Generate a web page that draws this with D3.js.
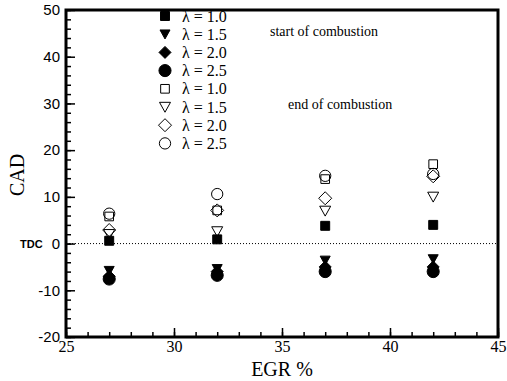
<!DOCTYPE html>
<html>
<head>
<meta charset="utf-8">
<script src="https://cdn.jsdelivr.net/npm/d3@7"></script>
</head>
<body style="margin:0">
<svg id="chart" width="507" height="381"></svg>
<script>
// EGR values (x) shared by every series
const egr = [27, 32, 37, 42];

// start of combustion (filled markers)
const startL10 = [0.6, 0.9, 3.8, 4.0];
const startL15 = [-5.8, -5.4, -3.6, -3.3];
const startL20 = [-7.0, -6.0, -5.0, -5.0];
const startL25 = [-7.6, -6.8, -6.0, -6.0];

// end of combustion (open markers)
const endL10 = [5.8, 7.1, 13.8, 17.0];
const endL15 = [2.0, 2.6, 7.0, 10.0];
const endL20 = [2.9, 7.1, 9.7, 14.4];
const endL25 = [6.4, 10.6, 14.5, 14.9];

const xTicks = [25, 30, 35, 40, 45];
const yTicks = [-20, -10, 0, 10, 20, 30, 40, 50];

const legendNames = ['λ = 1.0', 'λ = 1.5', 'λ = 2.0', 'λ = 2.5', 'λ = 1.0', 'λ = 1.5', 'λ = 2.0', 'λ = 2.5'];
const allValues = [startL10, startL15, startL20, startL25, endL10, endL15, endL20, endL25];
const shapes = ['square', 'tri', 'diamond', 'circle', 'square', 'tri', 'diamond', 'circle'];

const svg = d3.select('#chart');
const m = { left: 66, right: 498, top: 10, bottom: 337 };

const x = d3.scaleLinear().domain([25, 45]).range([m.left, m.right]);
const y = d3.scaleLinear().domain([-20, 50]).range([m.bottom, m.top]);

// marker path generator
function markerPath(shape, filled) {
  if (shape === 'square') return d3.symbol(d3.symbolSquare, filled ? 80 : 75)();
  if (shape === 'circle') return d3.symbol(d3.symbolCircle, filled ? 115 : 100)();
  if (shape === 'diamond') {
    const s = filled ? 6 : 6.5;
    return `M0,${-s}L${s},0L0,${s}L${-s},0Z`;
  }
  const s = filled ? 5 : 5.5; // downward triangle
  return `M${-s},${-s * 0.85}L${s},${-s * 0.85}L0,${s * 0.95}Z`;
}

// dotted TDC line
svg.append('line')
  .attr('x1', m.left).attr('x2', m.right)
  .attr('y1', y(0)).attr('y2', y(0))
  .attr('stroke', '#000').attr('stroke-width', 1)
  .attr('stroke-dasharray', '1,2');

// data markers
allValues.forEach((vals, k) => {
  const filled = k < 4;
  svg.append('g').selectAll('path')
    .data(vals)
    .enter().append('path')
    .attr('transform', (d, i) => `translate(${x(egr[i])},${y(d)})`)
    .attr('d', markerPath(shapes[k], filled))
    .attr('fill', filled ? '#000' : 'none')
    .attr('stroke', '#000')
    .attr('stroke-width', 1);
});

// legend
const legend = svg.append('g');
legendNames.forEach((name, k) => {
  const filled = k < 4;
  const ly = 16 + k * 18.2;
  legend.append('path')
    .attr('transform', `translate(165,${ly})`)
    .attr('d', markerPath(shapes[k], filled))
    .attr('fill', filled ? '#000' : 'none')
    .attr('stroke', '#000').attr('stroke-width', 1);
  legend.append('text')
    .attr('x', 182).attr('y', ly).attr('dy', '0.35em')
    .attr('font-family', 'Liberation Serif').attr('font-size', 16)
    .text(name);
});
legend.append('text')
  .attr('x', 270).attr('y', 31).attr('dy', '0.35em')
  .attr('font-family', 'Liberation Serif').attr('font-size', 14)
  .text('start of combustion');
legend.append('text')
  .attr('x', 288).attr('y', 104).attr('dy', '0.35em')
  .attr('font-family', 'Liberation Serif').attr('font-size', 14)
  .text('end of combustion');

// axes, ticks pointing into the frame
const gx = svg.append('g').attr('transform', `translate(0,${m.bottom})`)
  .call(d3.axisBottom(x).tickValues(xTicks).tickSize(-9).tickPadding(4).tickFormat(d => String(d)));
svg.append('g').attr('transform', `translate(0,${m.bottom})`)
  .call(d3.axisBottom(x).tickValues(d3.range(25, 46, 1)).tickSize(-5).tickFormat(''));
const gy = svg.append('g').attr('transform', `translate(${m.left},0)`)
  .call(d3.axisLeft(y).tickValues(yTicks).tickSize(-9).tickPadding(6).tickFormat(d => String(d)));
svg.append('g').attr('transform', `translate(${m.left},0)`)
  .call(d3.axisLeft(y).tickValues(d3.range(-20, 51, 2)).tickSize(-5).tickFormat(''));
svg.selectAll('.tick line').attr('stroke-width', 1.5);

gx.selectAll('text').attr('font-family', 'Liberation Serif').attr('font-size', 16);
gy.selectAll('text').attr('font-family', 'Liberation Sans').attr('font-size', 15);

// frame
svg.append('rect')
  .attr('x', m.left).attr('y', m.top)
  .attr('width', m.right - m.left).attr('height', m.bottom - m.top)
  .attr('fill', 'none').attr('stroke', '#000').attr('stroke-width', 3);

// TDC label
svg.append('text')
  .attr('x', 20).attr('y', y(0)).attr('dy', '0.36em')
  .attr('font-family', 'Liberation Sans').attr('font-weight', 'bold').attr('font-size', 11)
  .text('TDC');

// axis titles
svg.append('text')
  .attr('x', (m.left + m.right) / 2).attr('y', 376)
  .attr('text-anchor', 'middle')
  .attr('font-family', 'Liberation Serif').attr('font-size', 20)
  .text('EGR %');

svg.append('text')
  .attr('transform', 'translate(24,175) rotate(-90)')
  .attr('text-anchor', 'middle')
  .attr('font-family', 'Liberation Serif').attr('font-size', 20)
  .text('CAD');
</script>
</body>
</html>
